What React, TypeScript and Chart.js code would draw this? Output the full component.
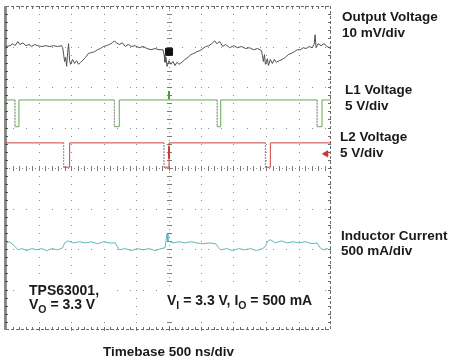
import React, { useEffect, useRef } from "react";
import { Chart, registerables } from "chart.js";
Chart.register(...registerables);

// Timebase: 500 ns/div, 10 divisions. Vertical: 8 divisions (values in divisions from bottom).
const X_DIV_NS = 500;
const X_DIVS = 10;
const Y_DIVS = 8;

// Output voltage (10 mV/div)
const outT = [0, 61, 107, 138, 183, 214, 260, 306, 352, 398, 443, 489, 550, 612, 673, 734, 795, 856, 872, 887, 902, 917, 933, 948, 963, 979, 994, 1024, 1055, 1085, 1116, 1147, 1177, 1223, 1269, 1315, 1361, 1407, 1453, 1499, 1544, 1590, 1636, 1667, 1697, 1743, 1789, 1835, 1881, 1927, 1988, 2049, 2110, 2171, 2232, 2294, 2355, 2416, 2431, 2446, 2462, 2477, 2508, 2538, 2569, 2600, 2630, 2661, 2707, 2752, 2798, 2844, 2890, 2936, 2982, 3028, 3073, 3119, 3165, 3211, 3242, 3287, 3333, 3379, 3440, 3502, 3563, 3624, 3685, 3746, 3807, 3869, 3930, 3945, 3960, 3976, 3991, 4021, 4037, 4067, 4098, 4128, 4159, 4205, 4251, 4297, 4343, 4389, 4434, 4480, 4526, 4572, 4618, 4664, 4709, 4740, 4755, 4771, 4801, 4847, 4893, 4939, 5000];
const outV = [7.0, 7.02, 7.07, 7.02, 7.12, 7.05, 7.09, 7.02, 7.05, 7.0, 7.05, 7.02, 7.0, 7.02, 7.0, 7.02, 7.0, 7.02, 6.97, 6.8, 6.63, 6.73, 6.51, 6.85, 7.07, 6.65, 6.56, 6.68, 6.58, 6.65, 6.56, 6.61, 6.65, 6.73, 6.83, 6.85, 6.87, 6.92, 6.95, 7.0, 7.02, 7.05, 7.09, 7.14, 7.09, 7.05, 7.09, 7.0, 7.05, 7.0, 7.02, 6.97, 7.0, 6.95, 6.92, 6.95, 6.92, 6.92, 6.8, 6.61, 6.73, 6.51, 6.65, 6.56, 6.63, 6.53, 6.61, 6.56, 6.61, 6.68, 6.73, 6.8, 6.83, 6.87, 6.9, 6.95, 7.0, 7.02, 7.07, 7.14, 7.07, 7.12, 7.0, 7.05, 6.97, 7.02, 6.97, 7.0, 6.95, 6.97, 6.92, 6.95, 6.9, 6.78, 6.63, 6.8, 6.56, 6.7, 6.53, 6.68, 6.58, 6.68, 6.61, 6.65, 6.68, 6.73, 6.8, 6.83, 6.87, 6.92, 6.92, 6.97, 6.95, 7.0, 6.97, 7.05, 7.29, 6.97, 7.07, 7.02, 7.07, 7.0, 6.95];

// L1 voltage (5 V/div)
const l1T = [0, 138, 138, 199, 199, 1667, 1667, 1743, 1743, 3249, 3249, 3303, 3303, 4786, 4786, 4862, 4862, 5000];
const l1V = [5.68, 5.68, 5.02, 5.02, 5.68, 5.68, 5.02, 5.02, 5.68, 5.68, 5.02, 5.02, 5.68, 5.68, 5.02, 5.02, 5.68, 5.68];

// L2 voltage (5 V/div)
const l2T = [0, 887, 887, 979, 979, 2431, 2431, 2508, 2508, 3991, 3991, 4067, 4067, 5000];
const l2V = [4.62, 4.62, 4.02, 4.02, 4.62, 4.62, 4.02, 4.02, 4.62, 4.62, 4.02, 4.02, 4.62, 4.62];

// Inductor current (500 mA/div)
const ilT = [0, 46, 92, 138, 183, 245, 321, 398, 474, 550, 627, 703, 795, 872, 902, 948, 1040, 1131, 1223, 1315, 1407, 1499, 1590, 1682, 1712, 1743, 1835, 1927, 2018, 2110, 2202, 2294, 2385, 2446, 2477, 2492, 2569, 2661, 2752, 2844, 2936, 3028, 3119, 3226, 3272, 3303, 3394, 3486, 3578, 3670, 3762, 3853, 3945, 3991, 4021, 4067, 4144, 4235, 4327, 4419, 4511, 4602, 4709, 4786, 4832, 4878, 4939, 5000];
const ilV = [2.13, 2.18, 2.13, 2.06, 1.98, 2.01, 1.96, 2.01, 1.98, 2.01, 1.96, 2.01, 1.98, 2.03, 2.15, 2.2, 2.15, 2.18, 2.15, 2.18, 2.13, 2.18, 2.15, 2.15, 2.06, 1.98, 2.01, 1.96, 2.01, 1.98, 2.01, 1.96, 2.01, 2.03, 2.37, 2.2, 2.15, 2.18, 2.15, 2.18, 2.15, 2.13, 2.15, 2.13, 2.03, 1.98, 2.01, 1.96, 2.01, 1.98, 2.01, 1.96, 2.01, 2.06, 2.18, 2.23, 2.15, 2.2, 2.15, 2.18, 2.15, 2.18, 2.13, 2.15, 2.03, 1.98, 2.01, 1.96];

// Scope markers
const trigT = 2508;
const trigBoxV = 6.87;
const l1MarkV = [5.9, 5.7];
const l2MarkV = [4.53, 4.23];
const l2ArrowT = 4924;
const l2ArrowV = 4.35;

const channelLabels = [
  ["Output Voltage", "10 mV/div"],
  ["L1 Voltage", "5 V/div"],
  ["L2 Voltage", "5 V/div"],
  ["Inductor Current", "500 mA/div"],
];
const timebaseLabel = "Timebase 500 ns/div";

const pts = (t: number[], v: number[]) => t.map((x, i) => ({ x, y: v[i] }));

const FONT = '"Liberation Sans", Arial, Helvetica, sans-serif';

const graticule = {
  id: "graticule",
  beforeDatasetsDraw(chart: any) {
    const { ctx } = chart;
    const xs = chart.scales.x;
    const ys = chart.scales.y;
    const X = (d: number) => xs.getPixelForValue(d * X_DIV_NS);
    const Y = (d: number) => ys.getPixelForValue(d);
    const r = Math.round;
    ctx.save();
    ctx.fillStyle = "#8f8f8f";
    const dot = (px: number, py: number) => ctx.fillRect(r(px), r(py), 1, 1);
    for (let i = 1; i < X_DIVS; i++) {
      if (i === 5) continue;
      for (let j = 0; j <= Y_DIVS * 5; j++) dot(X(i), Y(j / 5));
    }
    for (let k = 1; k < Y_DIVS; k++) {
      if (k === 4) continue;
      for (let j = 1; j < X_DIVS * 5; j += 2) dot(X(j / 5), Y(k));
    }
    for (let j = 0; j <= X_DIVS * 10; j++) dot(X(j / 10), Y(4));
    for (let j = 0; j <= Y_DIVS * 10; j++) dot(X(5), Y(j / 10));
    ctx.fillStyle = "#7a7a7a";
    for (let j = 1; j < X_DIVS * 5; j++) ctx.fillRect(r(X(j / 5)), r(Y(4)) - 2, 1, 5);
    for (let j = 1; j < Y_DIVS * 5; j++) ctx.fillRect(r(X(5)) - 2, r(Y(j / 5)), 5, 1);
    // borders
    ctx.strokeStyle = "#6a6a6a";
    ctx.lineWidth = 1;
    ctx.setLineDash([3, 2]);
    ctx.beginPath();
    ctx.moveTo(X(0), r(Y(Y_DIVS)) + 0.5);
    ctx.lineTo(X(X_DIVS), r(Y(Y_DIVS)) + 0.5);
    ctx.moveTo(X(0), r(Y(0)) - 0.5);
    ctx.lineTo(X(X_DIVS), r(Y(0)) - 0.5);
    ctx.moveTo(r(X(X_DIVS)) - 0.5, Y(Y_DIVS));
    ctx.lineTo(r(X(X_DIVS)) - 0.5, Y(0));
    ctx.stroke();
    ctx.setLineDash([]);
    ctx.fillStyle = "#6a6a6a";
    for (let j = 1; j < X_DIVS * 5; j++) {
      ctx.fillRect(r(X(j / 5)), r(Y(Y_DIVS)), 1, 3);
      ctx.fillRect(r(X(j / 5)), r(Y(0)) - 3, 1, 3);
    }
    for (let j = 1; j < Y_DIVS * 5; j++) ctx.fillRect(r(X(X_DIVS)) - 3, r(Y(j / 5)), 3, 1);
    // left thick bar
    ctx.fillStyle = "#8a8a8a";
    ctx.fillRect(r(X(0)) - 2, r(Y(Y_DIVS)), 3, r(Y(0)) - r(Y(Y_DIVS)));
    ctx.fillStyle = "#555";
    for (let j = 1; j < Y_DIVS * 5; j++) ctx.fillRect(r(X(0)) - 1, r(Y(j / 5)), 3, 1);
    // annotation boxes
    ctx.fillStyle = "#ffffff";
    ctx.fillRect(22, 277, 86, 44);
    ctx.fillRect(158, 286, 164, 34);
    ctx.restore();
  },
  afterDraw(chart: any) {
    const { ctx } = chart;
    ctx.save();
    ctx.fillStyle = "#1a1a1a";
    ctx.textBaseline = "alphabetic";
    ctx.textAlign = "left";
    ctx.font = `bold 13.5px ${FONT}`;
    const pos = [
      [342, 21, 37],
      [345, 94, 110],
      [340, 141, 157],
      [341, 240, 255],
    ];
    channelLabels.forEach((l, i) => {
      ctx.fillText(l[0], pos[i][0], pos[i][1]);
      ctx.fillText(l[1], pos[i][0], pos[i][2]);
    });
    ctx.fillText(timebaseLabel, 103, 356);
    const run = (parts: [string, boolean][], x: number, y: number) => {
      let cx = x;
      for (const [t, sub] of parts) {
        ctx.font = sub ? `bold 10.5px ${FONT}` : `bold 14px ${FONT}`;
        ctx.fillText(t, cx, sub ? y + 4 : y);
        cx += ctx.measureText(t).width;
      }
    };
    run([["TPS63001,", false]], 29, 295);
    run([["V", false], ["O", true], [" = 3.3 V", false]], 29, 309);
    run([["V", false], ["I", true], [" = 3.3 V, I", false], ["O", true], [" = 500 mA", false]], 167, 305);
    ctx.restore();
  },
};

export default function App() {
  const ref = useRef<HTMLCanvasElement>(null);
  useEffect(() => {
    if (!ref.current) return;
    const falling = (c: any) => c.p1.parsed.x === c.p0.parsed.x && c.p1.parsed.y < c.p0.parsed.y;
    const chart = new Chart(ref.current, {
      type: "line",
      data: {
        datasets: [
          {
            label: "Output Voltage",
            data: pts(outT, outV),
            borderColor: "#505050",
            borderWidth: 1,
            pointRadius: 0,
          },
          {
            label: "L1 Voltage",
            data: pts(l1T, l1V),
            borderColor: "#66a852",
            borderWidth: 1,
            pointRadius: 0,
            segment: {
              borderColor: (c: any) => (falling(c) ? "#8a8a8a" : undefined),
              borderDash: (c: any) => (falling(c) ? [1, 2] : undefined),
            },
          },
          {
            label: "L2 Voltage",
            data: pts(l2T, l2V),
            borderColor: "#d04040",
            borderWidth: 1,
            pointRadius: 0,
            segment: {
              borderColor: (c: any) => (falling(c) ? "#8a8a8a" : undefined),
              borderDash: (c: any) => (falling(c) ? [1, 2] : undefined),
            },
          },
          {
            label: "Inductor Current",
            data: pts(ilT, ilV),
            borderColor: "#5fb6b6",
            borderWidth: 1,
            pointRadius: 0,
          },
          {
            label: "Trigger",
            data: [{ x: trigT, y: trigBoxV }],
            showLine: false,
            pointStyle: "rect",
            pointRadius: 5,
            backgroundColor: "#111",
            borderColor: "#111",
          },
          {
            label: "L1 marker",
            data: pts([trigT, trigT], l1MarkV),
            borderColor: "#4e9a3c",
            borderWidth: 2,
            pointRadius: 0,
          },
          {
            label: "L2 marker",
            data: pts([trigT, trigT], l2MarkV),
            borderColor: "#d03030",
            borderWidth: 2,
            pointRadius: 0,
          },
          {
            label: "L2 ref",
            data: [{ x: l2ArrowT, y: l2ArrowV }],
            showLine: false,
            pointStyle: "triangle",
            rotation: -90,
            pointRadius: 3.5,
            backgroundColor: "#d03030",
            borderColor: "#d03030",
          },
        ],
      },
      options: {
        responsive: false,
        animation: false,
        devicePixelRatio: 1,
        events: [],
        layout: { padding: { left: 4, top: 3, right: 123, bottom: 29 } },
        elements: { line: { tension: 0 } },
        plugins: { legend: { display: false }, tooltip: { enabled: false } },
        scales: {
          x: { type: "linear", min: 0, max: X_DIVS * X_DIV_NS, display: false },
          y: { type: "linear", min: 0, max: Y_DIVS, display: false },
        },
      },
      plugins: [graticule],
    });
    return () => chart.destroy();
  }, []);
  return (
    <div style={{ position: "absolute", left: 0, top: 0, width: 454, height: 359, background: "#fff" }}>
      <canvas ref={ref} width={454} height={359} style={{ display: "block" }} />
    </div>
  );
}
